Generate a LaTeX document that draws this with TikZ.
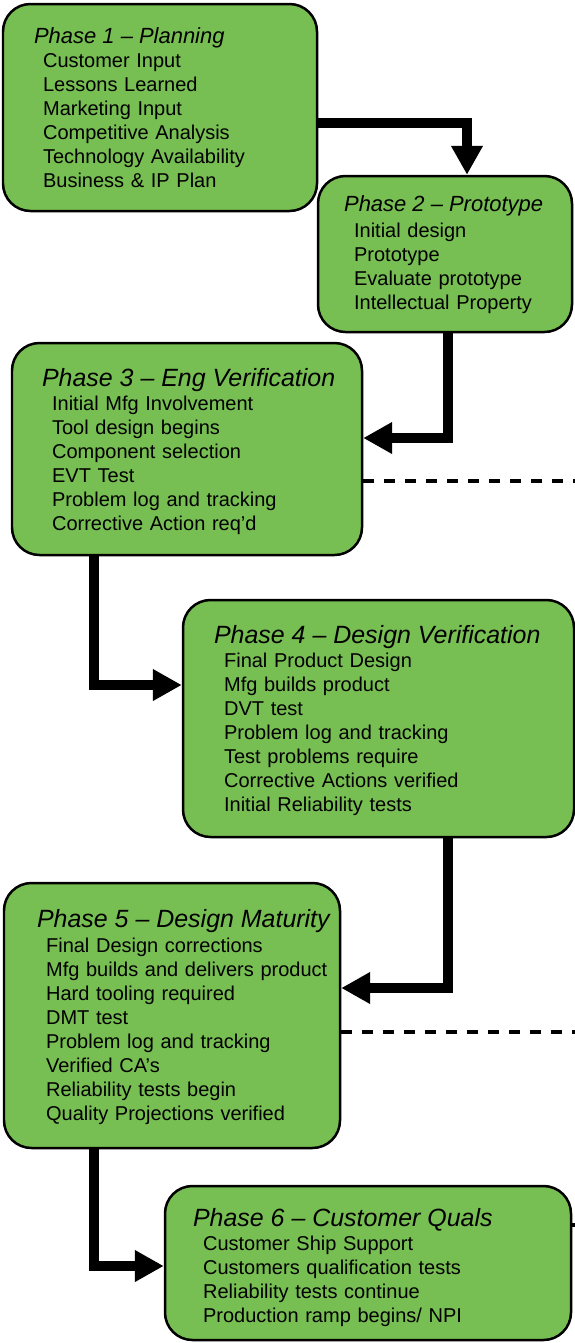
\documentclass[tikz,border=0pt]{standalone}
\usepackage{fontspec}
\setmainfont{Liberation Sans}
\usetikzlibrary{arrows.meta, positioning, fit}
\definecolor{phasegreen}{RGB}{119,190,83}

\begin{document}
\begin{tikzpicture}[x=0.02cm, y=-0.02cm]
    % Define styles
    \tikzstyle{phasebox} = [rectangle, rounded corners=0.55cm, draw=black, line width=0.05cm, fill=phasegreen, inner sep=0pt]
    \tikzstyle{titletext} = [inner sep=0pt, anchor=base west, font=\itshape\fontsize{12.5pt}{15pt}\selectfont]
    \tikzstyle{bigtitletext} = [titletext, font=\itshape\fontsize{14.2pt}{17pt}\selectfont]
    \tikzstyle{itemtext} = [inner sep=0pt, anchor=base west, align=left, text width=7.5cm, font=\fontsize{11.38pt}{13.66pt}\selectfont]
    \tikzstyle{arrow} = [line width=0.2cm, -{Triangle[length=0.58cm, width=0.6cm]}]
    \tikzstyle{handoff} = [line width=0.07cm, dash pattern=on 0.22cm off 0.2cm]

    \useasboundingbox (0,0) rectangle (575,1343);

    % Phase boxes
    \node (p1) [phasebox, fit={(3,4) (317,211)}] {};
    \node (p2) [phasebox, fit={(318,176) (572,332)}] {};
    \node (p3) [phasebox, fit={(12,343) (362,555)}] {};
    \node (p4) [phasebox, fit={(183,600) (574,837)}] {};
    \node (p5) [phasebox, fit={(4,883) (340,1148)}] {};
    \node (p6) [phasebox, fit={(165,1186) (571,1340)}] {};

    % Phase 1
    \node (t1) [titletext] at ([shift={(32,41)}]p1.north west) {Phase 1 -- Planning};
    \node (l1) [itemtext] at ([shift={(9,24)}]t1.base west) {Customer Input\\ Lessons Learned\\ Marketing Input\\ Competitive Analysis\\ Technology Availability\\ Business \& IP Plan};

    % Phase 2
    \node (t2) [titletext] at ([shift={(27,37)}]p2.north west) {Phase 2 -- Prototype};
    \node (l2) [itemtext] at ([shift={(10,26)}]t2.base west) {Initial design\\ Prototype\\ Evaluate prototype\\ Intellectual Property};

    % Phase 3
    \node (t3) [bigtitletext] at ([shift={(31,45)}]p3.north west) {Phase 3 -- Eng Verification};
    \node (l3) [itemtext] at ([shift={(10,24)}]t3.base west) {Initial Mfg Involvement\\ Tool design begins\\ Component selection\\ EVT Test\\ Problem log and tracking\\ Corrective Action req’d};

    % Phase 4
    \node (t4) [bigtitletext] at ([shift={(32,45)}]p4.north west) {Phase 4 -- Design Verification};
    \node (l4) [itemtext] at ([shift={(10,24)}]t4.base west) {Final Product Design\\ Mfg builds product\\ DVT test\\ Problem log and tracking\\ Test problems require\\ Corrective Actions verified\\ Initial Reliability tests};

    % Phase 5
    \node (t5) [bigtitletext] at ([shift={(34,46)}]p5.north west) {Phase 5 -- Design Maturity};
    \node (l5) [itemtext] at ([shift={(9,25)}]t5.base west) {Final Design corrections\\ Mfg builds and delivers product\\ Hard tooling required\\ DMT test\\ Problem log and tracking\\ Verified CA’s\\ Reliability tests begin\\ Quality Projections verified};

    % Phase 6
    \node (t6) [bigtitletext] at ([shift={(29,42)}]p6.north west) {Phase 6 -- Customer Quals};
    \node (l6) [itemtext] at ([shift={(10,24)}]t6.base west) {Customer Ship Support\\ Customers qualification tests\\ Reliability tests continue\\ Production ramp begins/ NPI};

    % Flow between phases
    \draw [arrow] ([shift={(0,15.5)}]p1.east) -| ([shift={(22,0)}]p2.north);
    \draw [arrow] ([shift={(3,0)}]p2.south) |- ([shift={(0,-11)}]p3.east);
    \draw [arrow] ([shift={(-93,0)}]p3.south) |- ([shift={(0,-33.5)}]p4.west);
    \draw [arrow] ([shift={(69.5,0)}]p4.south) |- ([shift={(0,-27.5)}]p5.east);
    \draw [arrow] ([shift={(-78,0)}]p5.south) |- ([shift={(0,3)}]p6.west);

    % Dashed lines off the right edge
    \coordinate (edge3) at (600,481);
    \coordinate (edge5) at (600,1032);
    \coordinate (edge6) at (600,1225);
    \draw [handoff] (p3.east |- edge3) -- (edge3);
    \draw [handoff] (p5.east |- edge5) -- (edge5);
    \draw [handoff] (p6.east |- edge6) -- (edge6);
\end{tikzpicture}
\end{document}
